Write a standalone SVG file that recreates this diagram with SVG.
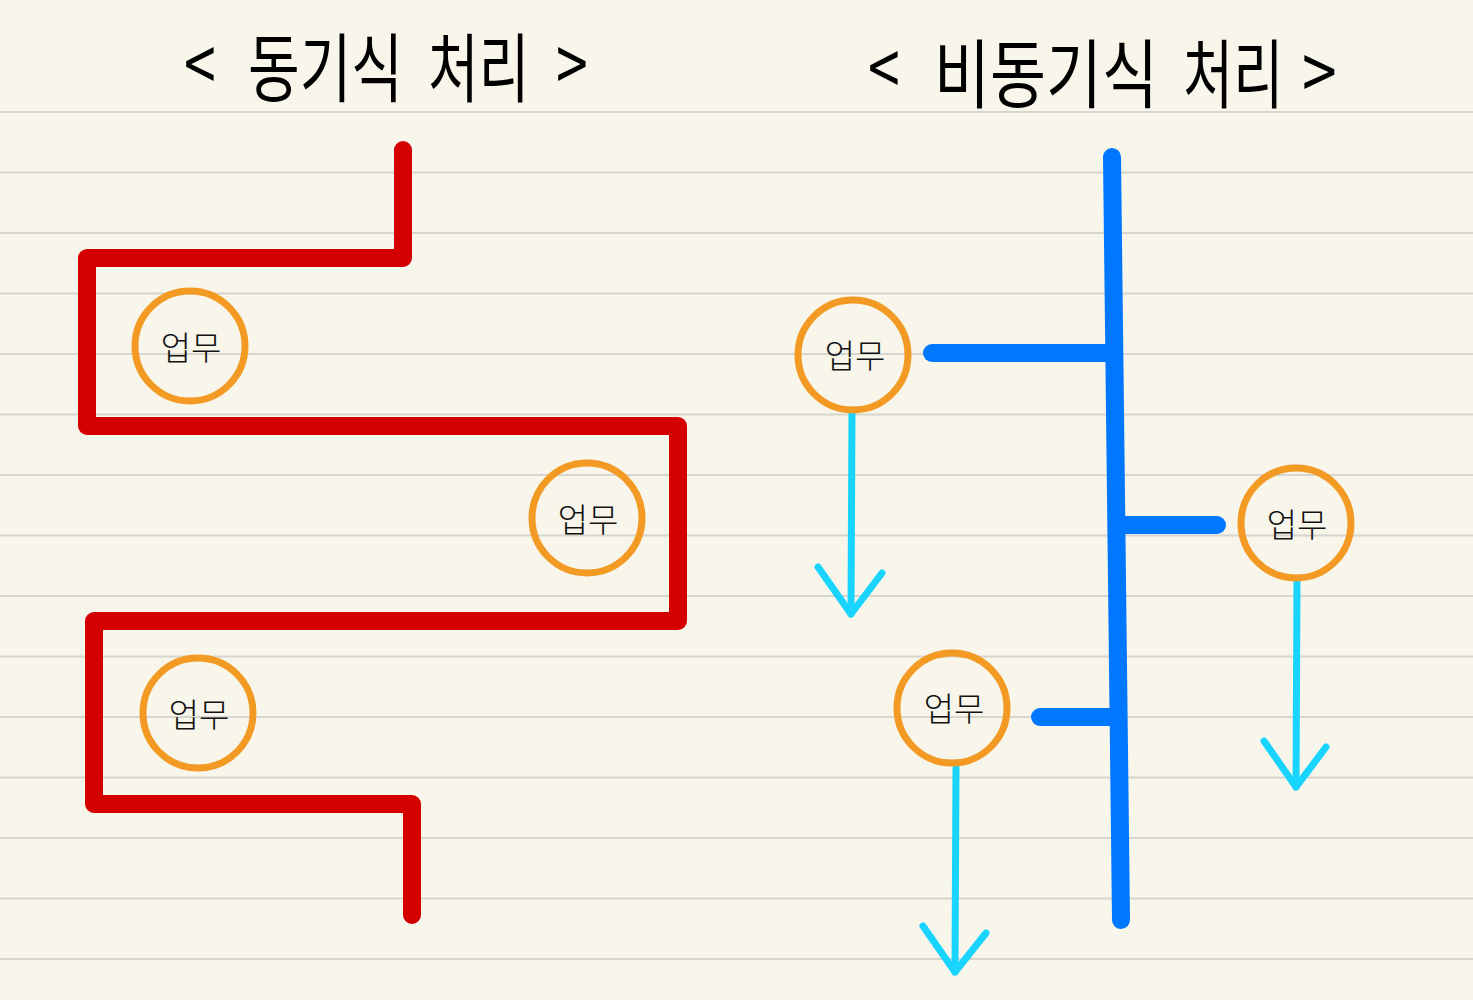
<svg xmlns="http://www.w3.org/2000/svg" width="1473" height="1000" viewBox="0 0 1473 1000">
<defs>
<style>
.rule{stroke:#d6d5cf;stroke-width:2}
.sync{fill:none;stroke:#d40000;stroke-width:18;stroke-linecap:round;stroke-linejoin:round}
.bus{fill:none;stroke:#0077ff;stroke-width:18;stroke-linecap:round;stroke-linejoin:round}
.flow{fill:none;stroke:#18d4ff;stroke-width:7;stroke-linecap:round;stroke-linejoin:round}
.task circle{fill:none;stroke:#f39a24;stroke-width:7}
.task text{font-family:"Noto Sans CJK KR",sans-serif;font-size:33px;font-weight:300;fill:#111;text-anchor:middle}
.title{font-family:"Noto Sans CJK KR",sans-serif;font-size:52px;font-weight:400;fill:#000}
</style>
</defs>
<rect width="1473" height="1000" fill="#f8f6ea"/>
<g id="rules">
<line class="rule" x1="0" y1="112" x2="1473" y2="112"/>
<line class="rule" x1="0" y1="172.5" x2="1473" y2="172.5"/>
<line class="rule" x1="0" y1="233" x2="1473" y2="233"/>
<line class="rule" x1="0" y1="293.5" x2="1473" y2="293.5"/>
<line class="rule" x1="0" y1="354" x2="1473" y2="354"/>
<line class="rule" x1="0" y1="414.5" x2="1473" y2="414.5"/>
<line class="rule" x1="0" y1="475" x2="1473" y2="475"/>
<line class="rule" x1="0" y1="535.5" x2="1473" y2="535.5"/>
<line class="rule" x1="0" y1="596" x2="1473" y2="596"/>
<line class="rule" x1="0" y1="656.5" x2="1473" y2="656.5"/>
<line class="rule" x1="0" y1="717" x2="1473" y2="717"/>
<line class="rule" x1="0" y1="777.5" x2="1473" y2="777.5"/>
<line class="rule" x1="0" y1="838" x2="1473" y2="838"/>
<line class="rule" x1="0" y1="898.5" x2="1473" y2="898.5"/>
<line class="rule" x1="0" y1="959" x2="1473" y2="959"/>
</g>
<g id="title-sync">
<text class="title" transform="translate(184,92) scale(1.1,1.45)">&lt;</text>
<text class="title" transform="translate(248,96) scale(1.08,1.45)">동기식</text>
<text class="title" transform="translate(428,96) scale(1.06,1.45)">처리</text>
<text class="title" transform="translate(556,92) scale(1.1,1.45)">&gt;</text>
</g>
<g id="title-async">
<text class="title" transform="translate(868,96) scale(1.1,1.45)">&lt;</text>
<text class="title" transform="translate(934,102) scale(1.17,1.45)">비동기식</text>
<text class="title" transform="translate(1183,102) scale(1.05,1.45)">처리</text>
<text class="title" transform="translate(1302,100) scale(1.2,1.45)">&gt;</text>
</g>
<g id="connectors">
<path class="sync" d="M403,150 V258 H87 V426 H678 V621 H94 V804 H412 V915"/>
<path class="bus" d="M1112,157 L1121,920"/>
<path class="bus" d="M932,353 H1112"/>
<path class="bus" d="M1124,525 H1217"/>
<path class="bus" d="M1040,717 H1114"/>
<path class="flow" d="M852,410 L851,614"/>
<path class="flow" d="M818,567 L851,614 L882,573"/>
<path class="flow" d="M1297,582 L1296,787"/>
<path class="flow" d="M1264,741 L1296,787 L1326,747"/>
<path class="flow" d="M956,768 L955,972"/>
<path class="flow" d="M923,926 L955,972 L986,933"/>
</g>
<g id="task-s1" class="task"><circle cx="190" cy="346" r="55"/><text x="191" y="360">업무</text></g>
<g id="task-s2" class="task"><circle cx="587" cy="518" r="55"/><text x="588" y="532">업무</text></g>
<g id="task-s3" class="task"><circle cx="198" cy="713" r="55"/><text x="199" y="727">업무</text></g>
<g id="task-a1" class="task"><circle cx="853" cy="355" r="55"/><text x="855" y="368">업무</text></g>
<g id="task-a2" class="task"><circle cx="1296" cy="523" r="55"/><text x="1297" y="537">업무</text></g>
<g id="task-a3" class="task"><circle cx="952" cy="708" r="55"/><text x="954" y="721">업무</text></g>
</svg>
